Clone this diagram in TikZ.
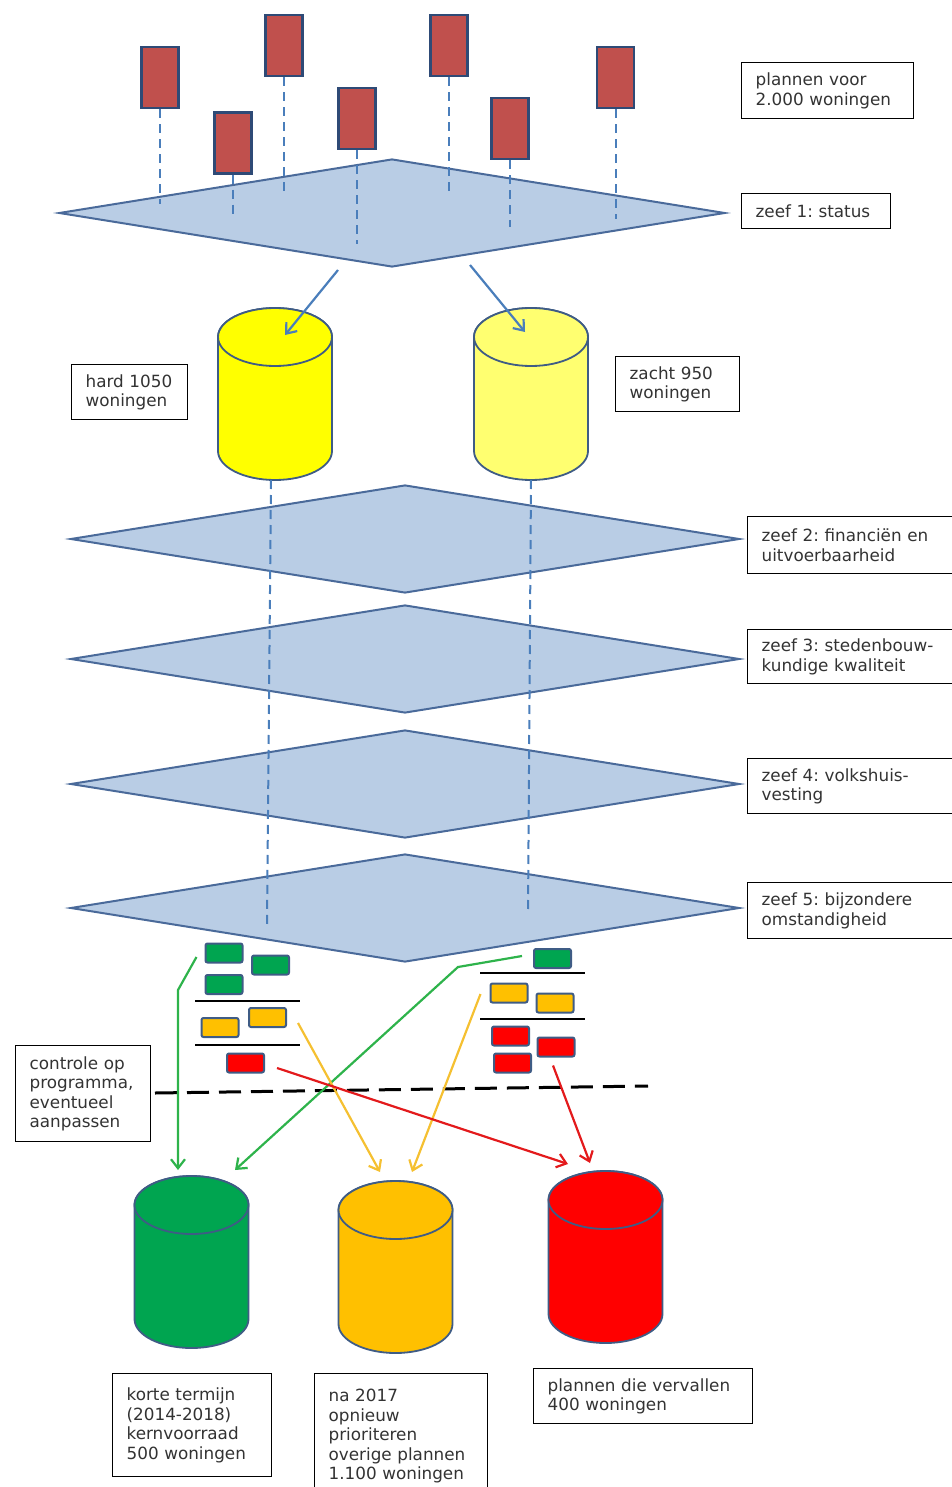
\documentclass[tikz,border=0pt]{standalone}
\usepackage{fontspec}
\setmainfont{DejaVu Sans}
\usetikzlibrary{arrows.meta,shapes.geometric}

\definecolor{planred}{HTML}{C0504D}
\definecolor{planedge}{HTML}{2E4A76}
\definecolor{sievefill}{HTML}{B9CDE5}
\definecolor{sieveedge}{HTML}{4A6A9A}
\definecolor{dropblue}{HTML}{4A7EBB}
\definecolor{hardyellow}{HTML}{FFFF00}
\definecolor{softyellow}{HTML}{FFFF70}
\definecolor{tankedge}{HTML}{3F5C85}
\definecolor{kerngreen}{HTML}{00A550}
\definecolor{prioamber}{HTML}{FFC000}
\definecolor{vervred}{HTML}{FF0000}
\definecolor{greenflow}{HTML}{2EB34B}
\definecolor{amberflow}{HTML}{F5C031}
\definecolor{redflow}{HTML}{E31A1C}

\newcommand\boxfont{\fontsize{16.8}{19.5}\selectfont}
\frenchspacing

\begin{document}
\begin{tikzpicture}[x=1pt,y=1pt,
  house/.style={draw=planedge,fill=planred,line width=2.5pt,minimum width=37pt,minimum height=61pt,inner sep=0pt},
  drop/.style={draw=dropblue,line width=2pt,dash pattern=on 9pt off 6pt},
  sieve/.style={diamond,draw=sieveedge,fill=sievefill,line width=2pt,minimum width=666pt,minimum height=108pt,inner sep=0pt},
  tank/.pic={
    \path[pic actions] (-57,0)--(-57,-114) arc[start angle=180,end angle=360,x radius=57,y radius=29]--(57,0) arc[start angle=0,end angle=180,x radius=57,y radius=29]--cycle;
    \path[pic actions] (0,0) ellipse[x radius=57,y radius=29];
    \coordinate (-top) at (0,0);
    \coordinate (-bot) at (0,-143);},
  tankline/.style={draw=tankedge,line width=1.8pt},
  lot/.style={draw=tankedge,line width=2pt,rounded corners=2pt,minimum width=37pt,minimum height=19pt,inner sep=0pt},
  infobox/.style={draw=black,line width=1.3pt,fill=white,align=left,anchor=north west,inner xsep=14pt,text=black!80,font=\boxfont},
  flow/.style={line width=2.2pt,-{Straight Barb[length=9pt,width=14pt]}}]
\useasboundingbox (0,0) rectangle (951,-1487);

% zeef 1 met plannen
\node[sieve] (z1) at (392,-213) {};
\node[house] (h1) at (160,-77.5) {};
\node[house] (h2) at (284,-45.5) {};
\node[house] (h3) at (233,-143) {};
\node[house] (h4) at (357,-118.5) {};
\node[house] (h5) at (449,-45.5) {};
\node[house] (h6) at (510,-128.5) {};
\node[house] (h7) at (615.5,-77.5) {};
\draw[drop] (h1.south)--++(0,-95);
\draw[drop] (h2.south)--++(0,-118);
\draw[drop] (h3.south)--++(0,-40);
\draw[drop] (h4.south)--++(0,-94);
\draw[drop] (h5.south)--++(0,-117);
\draw[drop] (h6.south)--++(0,-67);
\draw[drop] (h7.south)--++(0,-110);

\node[infobox,text width=144pt,minimum height=56pt] (plan) at (741,-62) {plannen voor\\2.000 woningen};
\node[infobox,text width=121pt,minimum height=35pt] (zeef1) at (741,-193) {zeef 1: status};

% hard en zacht
\pic[tankline,fill=hardyellow] (hard) at (275,-337) {tank};
\pic[tankline,fill=softyellow] (zacht) at (531,-337) {tank};
\draw[flow,dropblue] ([xshift=-54pt,yshift=-2pt]z1.south)--([xshift=10pt,yshift=2pt]hard-top);
\draw[flow,dropblue] ([xshift=78pt,yshift=3pt]z1.south)--([xshift=-6pt,yshift=5pt]zacht-top);
\node[infobox,text width=88pt,minimum height=55pt] (hardtxt) at (71,-364) {hard 1050\\woningen};
\node[infobox,text width=96pt,minimum height=55pt] (zachttxt) at (615,-356) {zacht 950\\woningen};

% zeven 2 t/m 5
\node[sieve,minimum width=669pt] (z2) at (405,-539) {};
\node[sieve,minimum width=669pt] (z3) at (405,-659) {};
\node[sieve,minimum width=669pt] (z4) at (405,-784) {};
\node[sieve,minimum width=669pt] (z5) at (405,-908) {};
\draw[drop] ([xshift=-4pt]hard-bot)--++(-4,-444);
\draw[drop] (zacht-bot)--++(-3,-433);
\node[infobox,text width=190pt,minimum height=57pt] (zeef2) at (747,-516) {zeef 2: financiën en\\uitvoerbaarheid};
\node[infobox,text width=190pt,minimum height=54pt] (zeef3) at (747,-629) {zeef 3: stedenbouw-\\kundige kwaliteit};
\node[infobox,text width=190pt,minimum height=55pt] (zeef4) at (747,-758) {zeef 4: volkshuis-\\vesting};
\node[infobox,text width=190pt,minimum height=56pt] (zeef5) at (747,-882) {zeef 5: bijzondere\\omstandigheid};

% uitkomst per soort plan
\node[lot,fill=kerngreen] (lg1) at (224,-953) {};
\node[lot,fill=kerngreen] (lg2) at (270.5,-965) {};
\node[lot,fill=kerngreen] (lg3) at (224,-984.5) {};
\node[lot,fill=prioamber] (ly1) at (220,-1027.5) {};
\node[lot,fill=prioamber] (ly2) at (267.5,-1017.5) {};
\node[lot,fill=vervred] (lr1) at (245.5,-1063) {};
\draw[line width=1.5pt] (195,-1001)--(300,-1001) (195,-1045)--(300,-1045);
\node[lot,fill=kerngreen] (rg1) at (552.5,-958.5) {};
\node[lot,fill=prioamber] (ry1) at (509,-993) {};
\node[lot,fill=prioamber] (ry2) at (555,-1003) {};
\node[lot,fill=vervred] (rr1) at (510.5,-1036) {};
\node[lot,fill=vervred] (rr2) at (556,-1047) {};
\node[lot,fill=vervred] (rr3) at (512.5,-1063) {};
\draw[line width=1.5pt] (480,-973)--(585,-973) (480,-1019)--(585,-1019);

\draw[line width=3pt,dash pattern=on 22pt off 10pt] (155,-1093)--(648,-1086);
\node[infobox,text width=107pt,minimum height=96pt] (controle) at (15,-1045) {controle op\\programma,\\eventueel\\aanpassen};

% eindvoorraden
\pic[tankline,fill=kerngreen] (kern) at (191.5,-1205) {tank};
\pic[tankline,fill=prioamber] (prio) at (395.5,-1210) {tank};
\pic[tankline,fill=vervred] (verv) at (605.5,-1200) {tank};

\draw[flow,greenflow] ([xshift=-8pt,yshift=-4pt]lg1.west)--(178,-990)--([xshift=-13.5pt,yshift=35pt]kern-top);
\draw[flow,greenflow] ([xshift=-11pt,yshift=2.5pt]rg1.west)--(458,-967)--([xshift=43.5pt,yshift=35pt]kern-top);
\draw[flow,amberflow] ([xshift=11pt,yshift=-5.5pt]ly2.east)--([xshift=-15.5pt,yshift=38pt]prio-top);
\draw[flow,amberflow] ([xshift=-9pt,yshift=-1pt]ry1.west)--([xshift=16.5pt,yshift=38pt]prio-top);
\draw[flow,redflow] ([xshift=12pt,yshift=-5pt]lr1.east)--([xshift=-37.5pt,yshift=36pt]verv-top);
\draw[flow,redflow] ([xshift=-3pt,yshift=-8pt]rr2.south)--([xshift=-15.5pt,yshift=37pt]verv-top);

\node[infobox,text width=131pt,minimum height=103pt] (kerntxt) at (112,-1373) {korte termijn\\(2014-2018)\\kernvoorraad\\500 woningen};
\node[infobox,text width=145pt,minimum height=125pt] (priotxt) at (314,-1373) {na 2017\\opnieuw\\prioriteren\\overige plannen\\1.100 woningen};
\node[infobox,text width=191pt,minimum height=55pt] (vervtxt) at (533,-1368) {plannen die vervallen\\400 woningen};
\end{tikzpicture}
\end{document}
